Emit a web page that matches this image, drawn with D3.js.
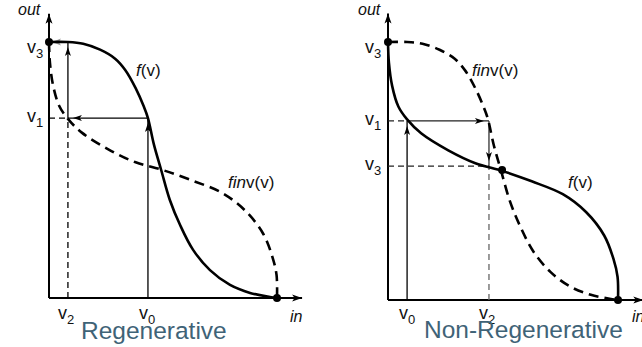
<!DOCTYPE html>
<html lang="en">
<head>
<meta charset="UTF-8">
<title>Regenerative vs Non-Regenerative</title>
<script src="https://cdn.jsdelivr.net/npm/d3@7/dist/d3.min.js"></script>
<style>
	body { margin: 0; background: #fff; }
	svg text { font-family: "Liberation Sans", Arial, sans-serif; fill: #111; }
	.title { fill: #3f6377; font-size: 24.5px; }
</style>
</head>
<body>
<div id="chart"></div>
<script>
// S-curve with flat top-left (left f, right finv), normalised in/out
var shapeA_in  = [0, 0.083, 0.15, 0.224, 0.29, 0.335, 0.38, 0.415, 0.434, 0.46, 0.492, 0.53, 0.575, 0.632, 0.706, 0.794, 0.882, 0.969, 1];
var shapeA_out = [1, 1, 0.993, 0.97, 0.935, 0.89, 0.82, 0.75, 0.703, 0.60, 0.50, 0.383, 0.285, 0.188, 0.109, 0.051, 0.02, 0.004, 0];
// S-curve with steep left edge (left finv, right f)
var shapeB_in  = [0, 0.004, 0.018, 0.045, 0.083, 0.144, 0.262, 0.38, 0.498, 0.625, 0.76, 0.862, 0.94, 0.98, 0.998, 1];
var shapeB_out = [1, 0.92, 0.83, 0.75, 0.70, 0.646, 0.58, 0.53, 0.50, 0.46, 0.41, 0.34, 0.25, 0.16, 0.09, 0];

// iteration values
var regen = {v0: 0.434, v1: 0.703, v2: 0.083, v3: 1};
var nonRegen = {v0: 0.083, v1: 0.694, v2: 0.439, v3: 0.519, cross: [0.496, 0.504]};

var titles = ['Regenerative', 'Non-Regenerative'];

var svg = d3.select('#chart').append('svg')
	.attr('width', 642).attr('height', 347);

var defs = svg.append('defs');
function marker(id, color, len, half, back) {
	defs.append('marker')
		.attr('id', id)
		.attr('markerUnits', 'userSpaceOnUse')
		.attr('orient', 'auto')
		.attr('refX', len + back).attr('refY', 0)
		.attr('markerWidth', 20).attr('markerHeight', 20)
		.style('overflow', 'visible')
		.append('path')
		.attr('d', 'M0,' + (-half) + 'L' + len + ',0L0,' + half + 'L' + (len * 0.25) + ',0Z')
		.attr('fill', color);
}
marker('axisArrow', '#000', 10, 3.5, 0);
marker('thinArrow', '#000', 9, 3, 5);
marker('greyArrow', '#999', 9, 3.5, 3);

function pts(xs, ys) {
	return xs.map(function (d, i) { return [d, ys[i]]; });
}

function label(g, x, y, main, sub) {
	var t = g.append('text').attr('x', x).attr('y', y).style('font-size', '18px');
	t.append('tspan').text(main);
	if (sub !== undefined) {
		t.append('tspan').attr('dy', 5).style('font-size', '13px').text(sub);
	}
	return t;
}

function panel(x0, x1, y0, y1, solid, dashed) {
	var x = d3.scaleLinear().domain([0, 1]).range([x0, x1]);
	var y = d3.scaleLinear().domain([0, 1]).range([y0, y1]);
	var line = d3.line()
		.x(function (d) { return x(d[0]); })
		.y(function (d) { return y(d[1]); })
		.curve(d3.curveCatmullRom.alpha(0.5));
	var g = svg.append('g');

	// axes
	g.append('line').attr('x1', x(0)).attr('y1', y(0)).attr('x2', x(1.11)).attr('y2', y(0))
		.attr('stroke', '#000').attr('stroke-width', 2).attr('marker-end', 'url(#axisArrow)');
	g.append('line').attr('x1', x(0)).attr('y1', y(0)).attr('x2', x(0)).attr('y2', y(1.11))
		.attr('stroke', '#000').attr('stroke-width', 2).attr('marker-end', 'url(#axisArrow)');

	return {x: x, y: y, line: line, g: g, solid: solid, dashed: dashed};
}

function curves(p) {
	p.g.append('path').attr('d', p.line(p.dashed)).attr('fill', 'none')
		.attr('stroke', '#000').attr('stroke-width', 2.6).attr('stroke-dasharray', '10,6');
	p.g.append('path').attr('d', p.line(p.solid)).attr('fill', 'none')
		.attr('stroke', '#000').attr('stroke-width', 2.6);
}

function seg(p, a, b, opt) {
	var l = p.g.append('line')
		.attr('x1', p.x(a[0])).attr('y1', p.y(a[1]))
		.attr('x2', p.x(b[0])).attr('y2', p.y(b[1]))
		.attr('stroke', opt.color || '#000').attr('stroke-width', opt.w || 1.3);
	if (opt.dash) l.attr('stroke-dasharray', '6,4');
	if (opt.arrow) l.attr('marker-end', 'url(#' + opt.arrow + ')');
}

function dot(p, u, v) {
	p.g.append('circle').attr('cx', p.x(u)).attr('cy', p.y(v)).attr('r', 4).attr('fill', '#000');
}

// ---- left: regenerative
var L = panel(49, 277, 298, 42, pts(shapeA_in, shapeA_out), pts(shapeB_in, shapeB_out));
var r = regen;
seg(L, [r.v2, r.v3], [0, r.v3], {color: '#999', w: 1.5, arrow: 'greyArrow'});
seg(L, [r.v0, 0], [r.v0, r.v1], {arrow: 'thinArrow'});
seg(L, [r.v0, r.v1], [r.v2, r.v1], {arrow: 'thinArrow'});
seg(L, [r.v2, r.v1], [r.v2, r.v3], {arrow: 'thinArrow'});
seg(L, [0, r.v1], [r.v2, r.v1], {dash: true});
seg(L, [r.v2, 0], [r.v2, r.v1], {dash: true});
curves(L);
dot(L, 0, 1);
dot(L, 1, 0);

label(L.g, 27, 53, 'v', '3');
label(L.g, 27, 122, 'v', '1');
label(L.g, L.x(r.v2) - 10, 319, 'v', '2');
label(L.g, L.x(r.v0) - 9, 319, 'v', '0');
L.g.append('text').attr('x', 18).attr('y', 15).style('font-size', '16px').style('font-style', 'italic').text('out');
L.g.append('text').attr('x', 290).attr('y', 322).style('font-size', '16px').style('font-style', 'italic').text('in');
var fl = L.g.append('text').attr('x', 136).attr('y', 76).style('font-size', '17px');
fl.append('tspan').style('font-style', 'italic').text('f');
fl.append('tspan').text('(v)');
var il = L.g.append('text').attr('x', 228).attr('y', 188).style('font-size', '17px');
il.append('tspan').style('font-style', 'italic').text('fin');
il.append('tspan').text('v(v)');

// ---- right: non-regenerative
var R = panel(388, 618, 300, 42, pts(shapeB_in, shapeB_out), pts(shapeA_in, shapeA_out));
var n = nonRegen;
seg(R, [n.v0, 0], [n.v0, n.v1], {arrow: 'thinArrow'});
seg(R, [0, n.v1], [n.v0, n.v1], {dash: true, color: '#222'});
seg(R, [n.v0, n.v1], [n.v2, n.v1], {arrow: 'thinArrow', color: '#222'});
seg(R, [n.v2, n.v1], [n.v2, n.v3], {arrow: 'thinArrow', color: '#333'});
seg(R, [0, n.v3], [n.v2, n.v3], {dash: true, color: '#222'});
seg(R, [n.v2, 0], [n.v2, n.v3], {dash: true, color: '#666'});
curves(R);
dot(R, 0, 1);
dot(R, n.cross[0], n.cross[1]);
dot(R, 1, 0);

label(R.g, 365, 53, 'v', '3');
label(R.g, 365, 125, 'v', '1');
label(R.g, 365, 170, 'v', '3');
label(R.g, R.x(n.v0) - 8, 319, 'v', '0');
label(R.g, R.x(n.v2) - 10, 319, 'v', '2');
R.g.append('text').attr('x', 358).attr('y', 15).style('font-size', '16px').style('font-style', 'italic').text('out');
R.g.append('text').attr('x', 632).attr('y', 322).style('font-size', '16px').style('font-style', 'italic').text('in');
var fr = R.g.append('text').attr('x', 568).attr('y', 188).style('font-size', '17px');
fr.append('tspan').style('font-style', 'italic').text('f');
fr.append('tspan').text('(v)');
var ir = R.g.append('text').attr('x', 472).attr('y', 76).style('font-size', '17px');
ir.append('tspan').style('font-style', 'italic').text('fin');
ir.append('tspan').text('v(v)');

// titles
svg.append('text').attr('class', 'title').attr('x', 81).attr('y', 339).text(titles[0]);
svg.append('text').attr('class', 'title').attr('x', 424).attr('y', 338).text(titles[1]);
</script>
</body>
</html>
